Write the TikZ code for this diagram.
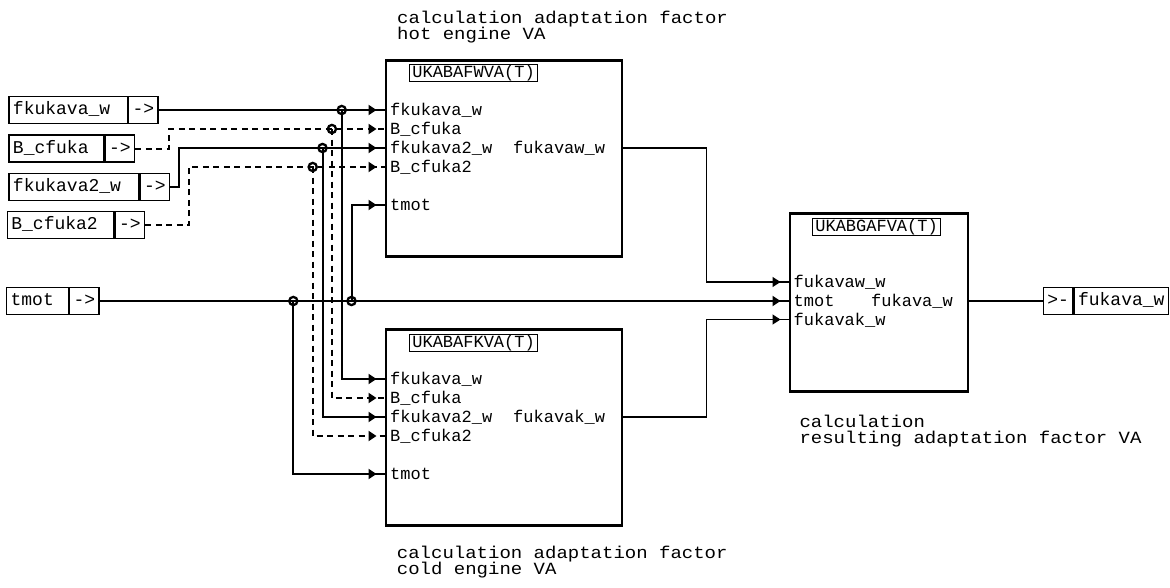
\documentclass[tikz,border=0pt]{standalone}
\usepackage{fontspec}
\newfontfamily\monoA{Liberation Mono}
\usetikzlibrary{arrows.meta,decorations.markings}
\newcommand\fntBlk{\monoA\fontsize{17}{19}\selectfont}
\newcommand\fntIO{\monoA\fontsize{18}{20}\selectfont}
\newcommand\fntCap{\monoA\fontsize{19}{16}\selectfont}
\newcommand\capV[1]{\scalebox{1}[0.9]{#1}}
\tikzset{
  blk/.style={draw, line width=2.7pt, anchor=north west, inner sep=0pt, outer sep=0pt},
  ttl/.style={draw, line width=0.9pt, anchor=west, font=\fntBlk, inner xsep=2.6pt, inner ysep=0pt, minimum height=17.5pt, text height=12pt, text depth=3pt},
  lbl/.style={font=\fntBlk, inner sep=0pt, anchor=base west},
  captxt/.style={font=\fntCap, inner sep=0pt, anchor=base west, text height=12pt, text depth=3pt},
  iob/.style={draw, line width=1.3pt, font=\fntIO, anchor=west, inner xsep=4pt, inner ysep=0pt, minimum height=27pt, text height=13pt, text depth=4pt, align=left},
  iocell/.style={draw, line width=1.3pt, font=\fntIO, anchor=west, inner xsep=3.5pt, inner ysep=0pt, minimum height=27pt, minimum width=29.4pt, text height=13pt, text depth=4pt},
  sig/.style={line width=2pt},
  sigd/.style={line width=2pt, dash pattern=on 6pt off 4.5pt},
  outl/.style={line width=1.3pt},
  arr/.style={postaction={decorate}, decoration={markings, mark=at position -9.5pt with {\pgfsetdash{}{0pt}\arrow{Triangle[length=8pt,width=10pt]}}}},
  jn/.style={circle, draw, line width=2.3pt, minimum size=8.2pt, inner sep=0pt},
}
\begin{document}
\begin{tikzpicture}[x=1pt,y=-1pt]
\fill[white] (0,0) rectangle (1170,587);
\useasboundingbox (0,0) rectangle (1170,587);

% blocks
\node[blk, minimum width=236pt, minimum height=196pt] (b1) at (386,60.5) {};
\node[blk, minimum width=236pt, minimum height=196pt] (b2) at (386,329.5) {};
\node[blk, minimum width=178pt, minimum height=178.5pt] (b3) at (790,213.3) {};

\node[ttl] (t1) at (409.3,73) {UKABAFWVA(T)};
\node[ttl] (t2) at (409.3,343) {UKABAFKVA(T)};
\node[ttl] (t3) at (812.3,226.7) {UKABGAFVA(T)};

% block labels
\node[lbl] (p11) at (390,115.5) {fkukava\_w};
\node[lbl] (p12) at (390,134.5) {B\_cfuka};
\node[lbl] (p13) at (390,153.5) {fkukava2\_w};
\node[lbl] (p14) at (390,172.5) {B\_cfuka2};
\node[lbl] (p15) at (390,210.5) {tmot};
\node[lbl] (q1) at (513,153.5) {fukavaw\_w};

\node[lbl] (p21) at (390,384.5) {fkukava\_w};
\node[lbl] (p22) at (390,403.5) {B\_cfuka};
\node[lbl] (p23) at (390,422.5) {fkukava2\_w};
\node[lbl] (p24) at (390,441.5) {B\_cfuka2};
\node[lbl] (p25) at (390,479.5) {tmot};
\node[lbl] (q2) at (513,422.5) {fukavak\_w};

\node[lbl] (p31) at (793.5,287.5) {fukavaw\_w};
\node[lbl] (p32) at (793.5,306.5) {tmot};
\node[lbl] (p33) at (793.5,325) {fukavak\_w};
\node[lbl] (q3) at (871,306.5) {fukava\_w};

% captions
\node[captxt] (h1) at (397,23) {\capV{calculation adaptation factor}};
\node[captxt] (h2) at (397,39) {\capV{hot engine VA}};
\node[captxt] (c1) at (396.7,558) {\capV{calculation adaptation factor}};
\node[captxt] (c2) at (396.7,574) {\capV{cold engine VA}};
\node[captxt] (g1) at (799.3,427) {\capV{calculation}};
\node[captxt] (g2) at (799.3,443) {\capV{resulting adaptation factor VA}};

% input boxes
\node[iob, text width=110.4pt] (n1) at (8.3,110) {fkukava\_w};
\node[iocell] (a1) at (n1.east) {->};
\node[iob, text width=87pt] (n2) at (8.3,148.5) {B\_cfuka};
\node[iocell] (a2) at (n2.east) {->};
\node[iob, text width=122pt] (n3) at (8.3,187) {fkukava2\_w};
\node[iocell] (a3) at (n3.east) {->};
\node[iob, text width=98.6pt] (n4) at (6.7,225) {B\_cfuka2};
\node[iocell] (a4) at (n4.east) {->};
\node[iob, text width=53.7pt] (n5) at (6,301) {tmot};
\node[iocell] (a5) at (n5.east) {->};

% output box
\node[iocell] (oa) at (1042.7,301) {>-};
\node[iob, text width=86.4pt] (on) at (oa.east) {fukava\_w};

% ports and bends
\coordinate (i11) at (386,110);
\coordinate (i12) at (386,129);
\coordinate (i13) at (386,148);
\coordinate (i14) at (386,167);
\coordinate (i15) at (386,205);
\coordinate (i21) at (386,379);
\coordinate (i22) at (386,398);
\coordinate (i23) at (386,417);
\coordinate (i24) at (386,436);
\coordinate (i25) at (386,474);
\coordinate (i31) at (790,282);
\coordinate (i32) at (790,301);
\coordinate (i33) at (790,319.5);
\coordinate (o1) at (622,148);
\coordinate (o2) at (622,417);
\coordinate (o3) at (968,301);
\coordinate (k2) at (169.3,129);
\coordinate (k3) at (179,148);
\coordinate (k4) at (189,167);
\coordinate (k7) at (706.7,282);
\coordinate (k8) at (706.7,319.5);
\coordinate (j1) at (341.7,110);
\coordinate (j2) at (331.9,129);
\coordinate (j3) at (322.5,148);
\coordinate (j4) at (312.7,167);
\coordinate (j5) at (293.3,301);
\coordinate (j6) at (351.5,301);

% connectors
\draw[sig,arr] (a1.east) -- (i11);
\draw[sigd,arr] (a2.east) -| (k2) -- (i12);
\draw[sig,arr] (a3.east) -| (k3) -- (i13);
\draw[sigd,arr] (a4.east) -| (k4) -- (i14);
\draw[sig,arr] (a5.east) -- (i32);
\draw[sig,arr] (j1) |- (i21);
\draw[sigd,arr] (j2) |- (i22);
\draw[sig,arr] (j3) |- (i23);
\draw[sigd,arr] (j4) |- (i24);
\draw[sig,arr] (j5) |- (i25);
\draw[sig,arr] (j6) |- (i15);
\draw[outl,arr] (o1) -| (k7) -- (i31);
\draw[outl,arr] (o2) -| (k8) -- (i33);
\draw[outl] (o3) -- (oa.west);

% junction rings
\foreach \j in {j1,j2,j3,j4,j5,j6} \node[jn] (r\j) at (\j) {};
\end{tikzpicture}
\end{document}
